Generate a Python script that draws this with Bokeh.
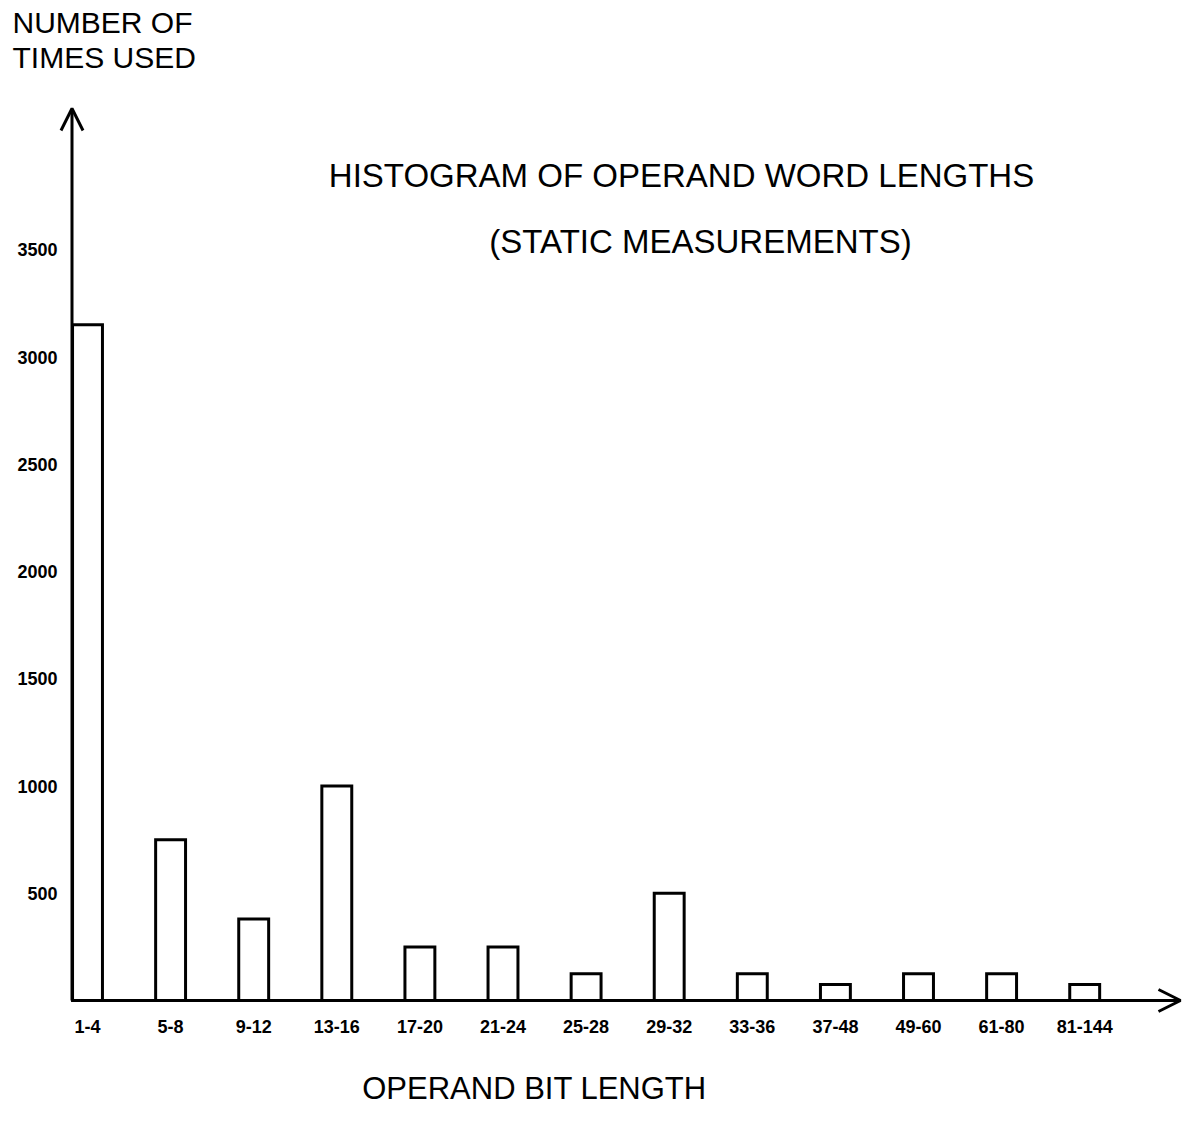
from bokeh.plotting import figure
from bokeh.models import Range1d, Label, Arrow, OpenHead
from bokeh.core.properties import value
from bokeh.embed import file_html
from bokeh.resources import INLINE

# ---- data ----
categories = ["1-4", "5-8", "9-12", "13-16", "17-20", "21-24", "25-28",
              "29-32", "33-36", "37-48", "49-60", "61-80", "81-144"]
counts = [3150, 750, 380, 1000, 250, 250, 125, 500, 125, 75, 125, 125, 75]
y_ticks = [500, 1000, 1500, 2000, 2500, 3000, 3500]

title_lines = ["HISTOGRAM OF OPERAND WORD LENGTHS", "(STATIC MEASUREMENTS)"]
y_title_lines = ["NUMBER OF", "TIMES USED"]
x_title = "OPERAND BIT LENGTH"

# ---- layout helpers (canvas pixel -> data units) ----
X0, SX = 87.0, 83.1      # canvas x of first bar centre, px per category
Y0, SY = 1000.0, 0.2145  # canvas y of baseline, px per count unit
W, H = 1183, 1105


def dx(px):
    return (px - X0) / SX


def dy(py):
    return (Y0 - py) / SY


FONT = "Liberation Sans"
idx = list(range(len(categories)))

p = figure(width=W, height=H, output_backend="svg", toolbar_location=None,
           x_range=Range1d(dx(0), dx(W)), y_range=Range1d(dy(H), dy(0)),
           x_axis_location=None, y_axis_location=None,
           min_border=0, min_border_left=0, min_border_right=0,
           min_border_top=0, min_border_bottom=0)
p.outline_line_color = None
p.grid.visible = False
p.background_fill_color = "white"
p.border_fill_color = "white"

# bars
p.vbar(x=idx, top=counts, bottom=0, width=0.36, fill_color="white",
       line_color="black", line_width=3, line_join="miter")

# tick labels (as text, from the tick / category arrays)
p.text(x=[dx(57)] * len(y_ticks), y=y_ticks, text=[str(v) for v in y_ticks],
       text_align="right", text_baseline="middle", text_font=value(FONT),
       text_font_style="bold", text_font_size="18px", text_color="black")
p.text(x=idx, y=[dy(1026)] * len(idx), text=categories,
       text_align="center", text_baseline="middle", text_font=value(FONT),
       text_font_style="bold", text_font_size="18px", text_color="black")

# axis lines with arrow heads
axis_x = dx(71.5)
p.add_layout(Arrow(end=OpenHead(size=22, line_width=3, line_color="black"),
                   x_start=axis_x, y_start=0, x_end=axis_x, y_end=dy(108),
                   line_width=3, line_color="black"))
p.add_layout(Arrow(end=OpenHead(size=22, line_width=3, line_color="black"),
                   x_start=axis_x, y_start=0, x_end=dx(1180), y_end=0,
                   line_width=3, line_color="black"))


def add_text(txt, cx, cy, size, align="center"):
    p.add_layout(Label(x=dx(cx), y=dy(cy), text=txt, text_align=align,
                       text_baseline="middle", text_font=FONT,
                       text_font_size=size, text_color="black"))


add_text(title_lines[0], 681, 175, "33px")
add_text(title_lines[1], 700, 241, "33px")
add_text(y_title_lines[0], 12, 22, "30px", align="left")
add_text(y_title_lines[1], 12, 57, "30px", align="left")
add_text(x_title, 534, 1088, "31px")

open("out.html", "w").write(file_html(p, INLINE))
